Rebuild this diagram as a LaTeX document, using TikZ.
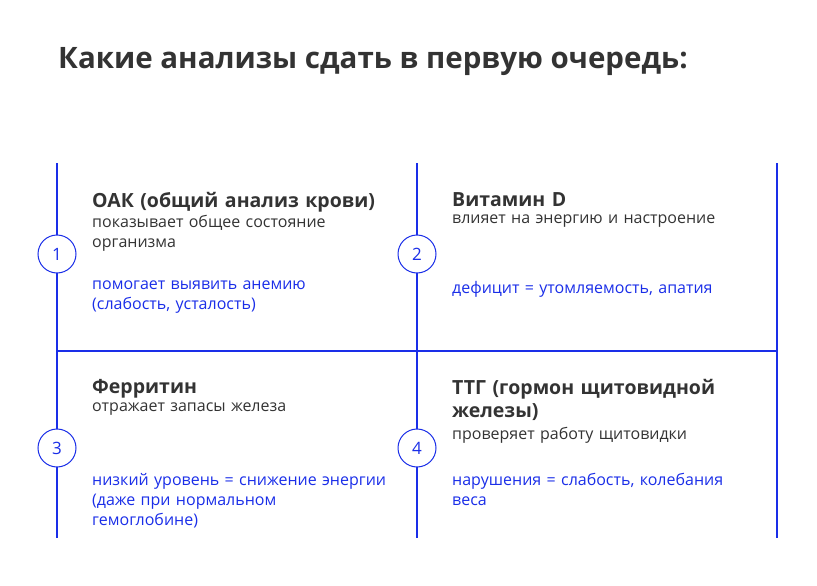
\documentclass[tikz,border=0pt]{standalone}
\usepackage{fontspec}
\setmainfont{Open Sans}
\definecolor{accent}{HTML}{1A2EE8}
\definecolor{ink}{HTML}{333333}
\begin{document}
\begin{tikzpicture}[x=1pt,y=-1pt,
  grid/.style={accent,line width=1.6pt},
  num/.style={circle,draw=accent,fill=white,line width=1pt,minimum size=38pt,inner sep=0pt,text=accent,font=\fontsize{17}{17}\selectfont},
  head/.style={anchor=north west,inner sep=0pt,text=ink,font=\fontsize{19.5}{23}\selectfont\bfseries,align=left,text width=310pt},
  info/.style={anchor=north west,inner sep=0pt,text=ink,font=\fontsize{16}{20}\selectfont,align=left,text width=310pt},
  note/.style={anchor=north west,inner sep=0pt,text=accent,font=\fontsize{16}{20}\selectfont,align=left,text width=310pt}]
\useasboundingbox (0,0) rectangle (817,586);
% Title
\node (title) [anchor=west,inner sep=0pt,text=ink,font=\fontsize{29.5}{32}\selectfont\bfseries] at (58,62) {Какие анализы сдать в первую очередь:};

% Grid
\coordinate (l-top) at (57,163);  \coordinate (l-bot) at (57,538);
\coordinate (m-top) at (417,163); \coordinate (m-bot) at (417,538);
\coordinate (r-top) at (777,163); \coordinate (r-bot) at (777,538);
\coordinate (h-left) at (57,351); \coordinate (h-right) at (777,351);
\draw[grid] (l-top) -- (l-bot);
\draw[grid] (m-top) -- (m-bot);
\draw[grid] (r-top) -- (r-bot);
\draw[grid] (h-left) -- (h-right);

% Numbers
\node (n1) [num] at (57,254) {1};
\node (n2) [num] at (417,254) {2};
\node (n3) [num] at (57,448) {3};
\node (n4) [num] at (417,448) {4};

% Cells
\node (h1) [head] at (92,192) {ОАК (общий анализ крови)};
\node (i1) [info] at (92,215) {показывает общее состояние\\организма};
\node (b1) [note] at (92,281) {помогает выявить анемию\\(слабость, усталость)};

\node (h2) [head] at (452,192) {Витамин D};
\node (i2) [info] at (452,215) {влияет на энергию и настроение};
\node (b2) [note] at (452,281) {дефицит = утомляемость, апатия};

\node (h3) [head] at (92,379) {Ферритин};
\node (i3) [info] at (92,403) {отражает запасы железа};
\node (b3) [note] at (92,473) {низкий уровень = снижение энергии\\(даже при нормальном\\гемоглобине)};

\node (h4) [head,text width=300pt] at (452,379) {ТТГ (гормон щитовидной\\железы)};
\node (i4) [info] at (452,427) {проверяет работу щитовидки};
\node (b4) [note] at (452,473) {нарушения = слабость, колебания\\веса};
\end{tikzpicture}
\end{document}
